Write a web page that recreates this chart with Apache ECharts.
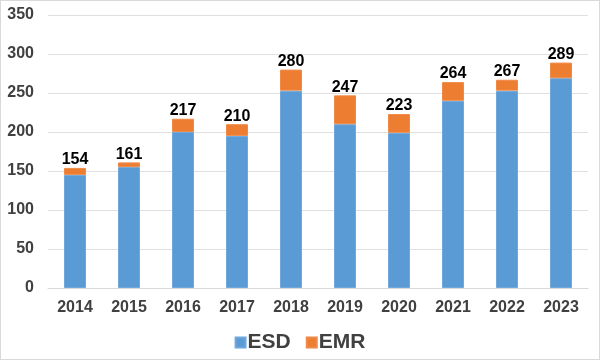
<!DOCTYPE html>
<html><head><meta charset="utf-8">
<script src="https://cdn.jsdelivr.net/npm/echarts@6/dist/echarts.min.js"></script>
<style>html,body{margin:0;padding:0;background:#fff;}#c{width:598px;height:358px;border:1px solid #d9d9d9;}</style>
</head><body><div id="c"></div>
<script>
var years = ['2014','2015','2016','2017','2018','2019','2020','2021','2022','2023'];
var esd = [145, 155, 200, 195, 253, 210, 199, 240, 253, 269];
var emr = [9, 6, 17, 15, 27, 37, 24, 24, 14, 20];
var totals = [154, 161, 217, 210, 280, 247, 223, 264, 267, 289];
var yTicks = [0, 50, 100, 150, 200, 250, 300, 350];

var chart = echarts.init(document.getElementById('c'));
var font = '"Liberation Sans", Arial, sans-serif';
chart.setOption({
  animation: false,
  textStyle: {fontFamily: font},
  grid: {left: 47, right: 11, top: 14, bottom: 71, containLabel: false},
  legend: {
    top: 326, left: 'center', itemWidth: 10, itemHeight: 10, itemGap: 15,
    icon: 'rect',
    textStyle: {fontSize: 21, fontWeight: 'bold', color: '#404040', fontFamily: font, padding: [0,0,0,-3]},
    data: ['ESD', 'EMR']
  },
  xAxis: {
    type: 'category', data: years,
    axisLine: {lineStyle: {color: '#d9d9d9', width: 1}},
    axisTick: {show: false},
    axisLabel: {fontSize: 16, fontWeight: 'bold', color: '#404040', margin: 12, fontFamily: font}
  },
  yAxis: {
    type: 'value', min: yTicks[0], max: yTicks[yTicks.length-1], interval: 50,
    axisLine: {show: false}, axisTick: {show: false},
    splitLine: {lineStyle: {color: '#e0e0e0', width: 1}},
    axisLabel: {fontSize: 16, fontWeight: 'bold', color: '#404040', margin: 14, fontFamily: font}
  },
  series: [
    {name: 'ESD', type: 'bar', stack: 's', data: esd, barWidth: 22,
     itemStyle: {color: '#5b9bd5', borderColor: '#70a8dc', borderWidth: 1}},
    {name: 'EMR', type: 'bar', stack: 's', data: emr, barWidth: 22,
     itemStyle: {color: '#ed7d31', borderColor: '#f08a48', borderWidth: 1},
     label: {show: true, position: 'top', distance: 0, fontSize: 16, fontWeight: 'bold', color: '#000', fontFamily: font,
       formatter: function(p){ return totals[p.dataIndex]; }}}
  ]
});
</script></body></html>
